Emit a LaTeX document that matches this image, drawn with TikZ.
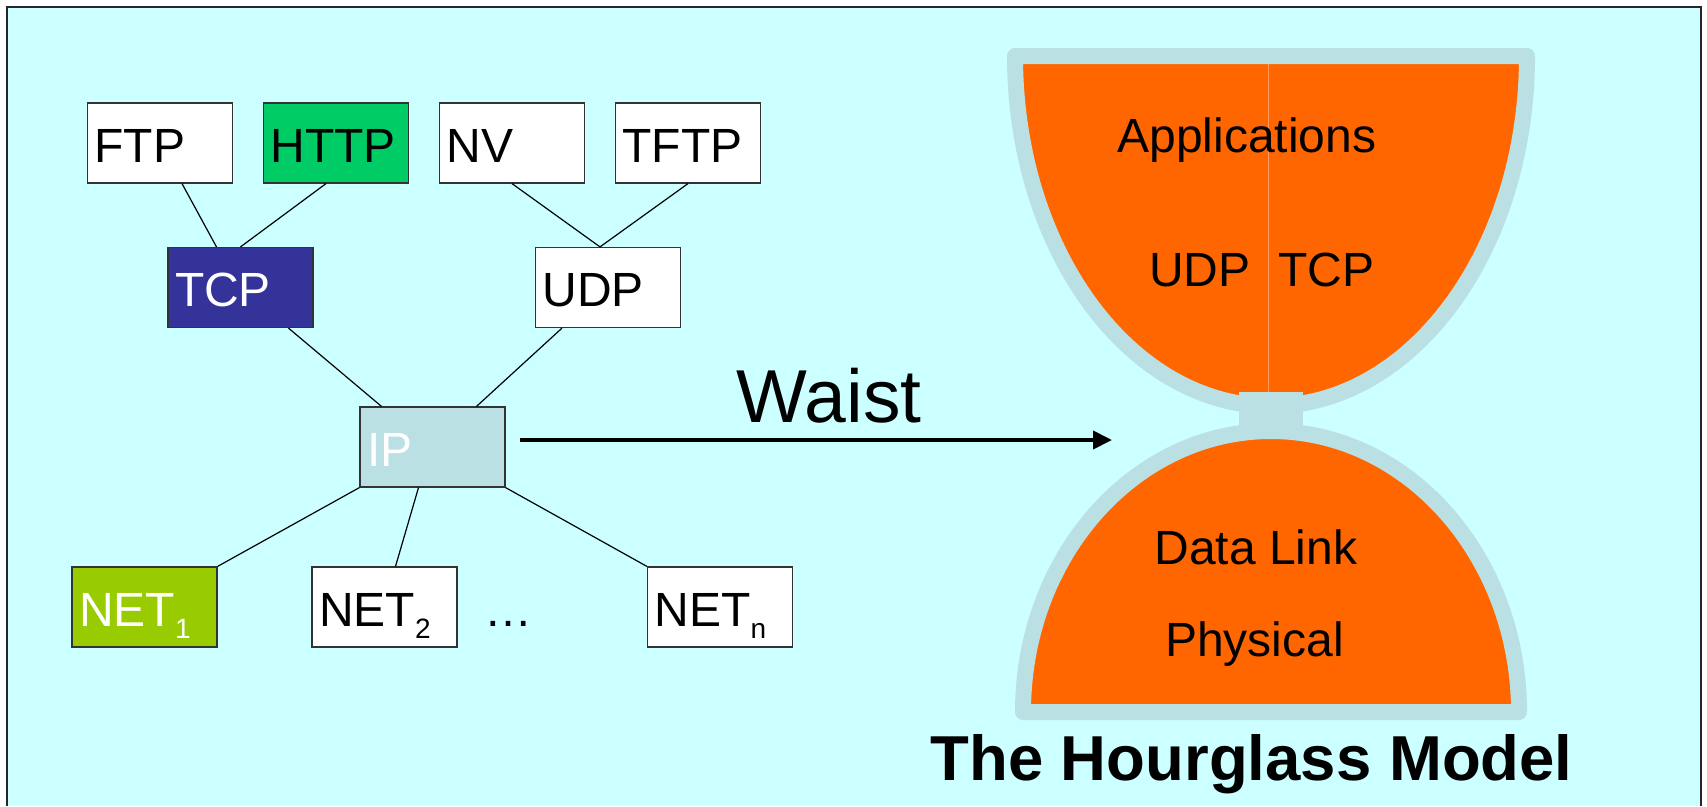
\documentclass[tikz,border=0pt]{standalone}
\usepackage{fontspec}
\setmainfont{Liberation Sans}
\usetikzlibrary{arrows.meta}

\definecolor{skybg}{HTML}{CCFFFF}
\definecolor{httpgreen}{HTML}{00CC66}
\definecolor{tcpblue}{HTML}{333399}
\definecolor{ipgrey}{HTML}{BBE0E3}
\definecolor{netgreen}{HTML}{99CC00}
\definecolor{glassorange}{HTML}{FF6600}
\definecolor{glassrim}{HTML}{BBE0E3}
\definecolor{seam}{HTML}{FF9A5C}

% lowered, smaller index after a network name
\newcommand\netsub[1]{\raisebox{-12pt}{\fontsize{28}{30}\selectfont #1}}

\begin{document}
\begin{tikzpicture}[x=1pt,y=-1pt,
  proto/.style={draw=black!80, line width=1.2pt, fill=white,
    inner xsep=7pt, inner ysep=0pt, text width=131pt, align=left,
    text height=59pt, text depth=21pt, font=\fontsize{48}{50}\selectfont},
  link/.style={line width=1.2pt, black},
  layer/.style={inner sep=0pt, anchor=base, font=\fontsize{48}{50}\selectfont},
]
% page and frame
\useasboundingbox (0,0) rectangle (1707,806);
\fill[white] (0,0) rectangle (1707,806);
\fill[skybg] (7,7) rectangle (1701,806);
\draw[line width=1.5pt, black!85] (7,806) -- (7,7) -- (1701,7) -- (1701,806);

% protocol stack
\node[proto] (ftp) at (160,143) {FTP};
\node[proto, fill=httpgreen] (http) at (336,143) {HTTP};
\node[proto] (nv) at (512,143) {NV};
\node[proto] (tftp) at (688,143) {TFTP};
\node[proto, fill=tcpblue, text=white] (tcp) at (240.5,287.5) {TCP};
\node[proto] (udp) at (608,287.5) {UDP};
\node[proto, fill=ipgrey, text=white] (ip) at (432.5,447) {IP};
\node[proto, fill=netgreen, text=white] (net1) at (144.5,607) {NET\netsub{1}};
\node[proto] (net2) at (384.5,607) {NET\netsub{2}};
\node[proto] (netn) at (720,607) {NET\netsub{n}};
\node[layer, anchor=base west] (dots) at (484,626) {…};

\draw[link] ([xshift=22pt]ftp.south) -- ([xshift=-24pt]tcp.north);
\draw[link] ([xshift=-10pt]http.south) -- (tcp.north);
\draw[link] (nv.south) -- ([xshift=-8pt]udp.north);
\draw[link] (tftp.south) -- ([xshift=-8pt]udp.north);
\draw[link] ([xshift=48pt]tcp.south) -- ([xshift=-51pt]ip.north);
\draw[link] ([xshift=-46pt]udp.south) -- ([xshift=44pt]ip.north);
\draw[link] (ip.south west) -- (net1.north east);
\draw[link] ([xshift=-14pt]ip.south) -- ([xshift=11pt]net2.north);
\draw[link] (ip.south east) -- (netn.north west);

% arrow to the hourglass
\coordinate (waisttip) at (1112,440);
\draw[line width=4pt, -{Triangle[length=19pt,width=18pt]}]
  ([xshift=14pt,yshift=7pt]ip.east) -- (waisttip);
\node[layer, font=\fontsize{75}{78}\selectfont] (waist) at (829,422) {Waist};

% hourglass: upper bowl, lower dome, neck
\path[fill=glassorange, draw=glassrim, line width=16pt, line join=round]
  (1015,56) -- (1527,56)
  arc[start angle=0, end angle=-180, x radius=256pt, y radius=350pt] -- cycle;
\path[fill=glassorange, draw=glassrim, line width=16pt, line join=round]
  (1023,712)
  arc[start angle=180, end angle=0, x radius=248pt, y radius=281pt] -- cycle;
\draw[seam, line width=1pt] (1268,64) -- (1268,398);
\fill[glassrim] (1239,392) rectangle (1303,426);

\node[layer] (apps) at (1247,152) {Applications};
\node[layer, anchor=base west] (udpl) at (1149,286) {UDP};
\node[layer, anchor=base west] (tcpl) at (1278,286) {TCP};
\node[layer] (dlink) at (1256,564) {Data Link};
\node[layer] (phys) at (1254.5,656) {Physical};
\node[layer, font=\fontsize{63.5}{66}\selectfont\bfseries] (title) at (1251.5,780) {The Hourglass Model};
\end{tikzpicture}
\end{document}
